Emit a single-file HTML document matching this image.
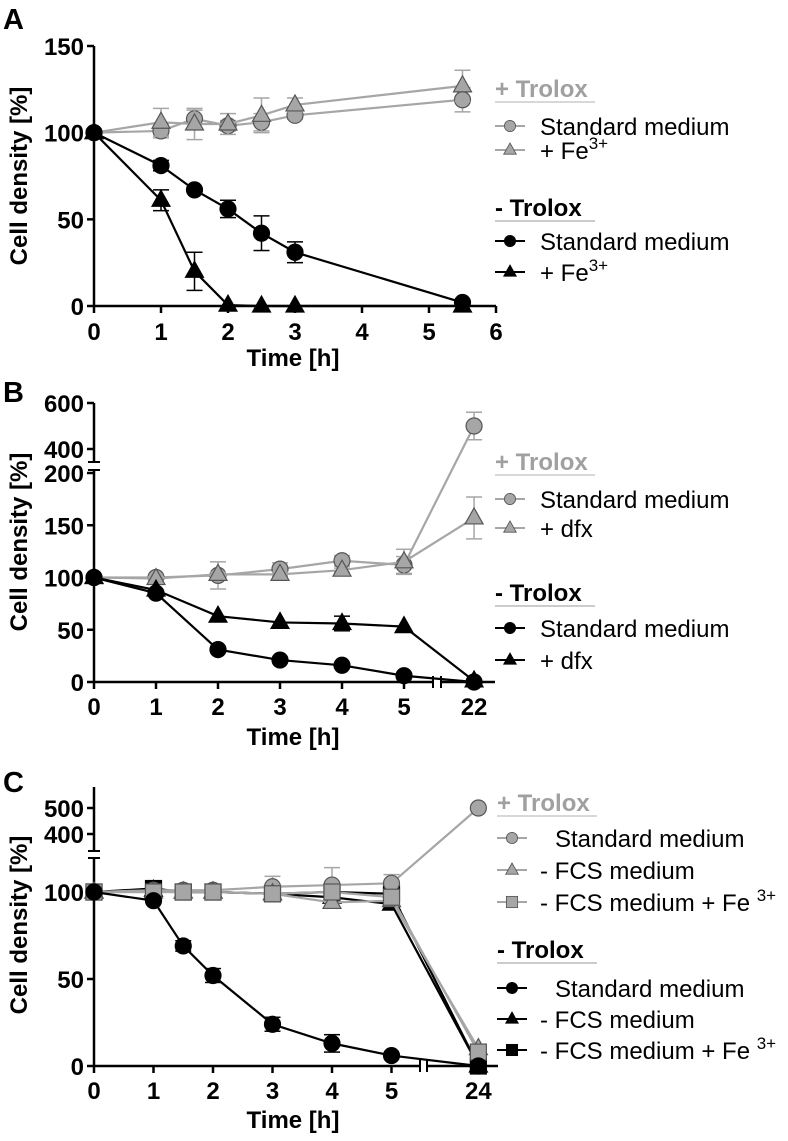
<!DOCTYPE html>
<html><head><meta charset="utf-8"><style>
body{margin:0;background:#fff;}
svg{display:block;font-family:"Liberation Sans",Arial,sans-serif;}
.tk{font-weight:bold;font-size:24px;}
.ttl{font-weight:bold;font-size:24px;}
.lg{font-size:24px;}
.pl{font-weight:bold;font-size:29px;}
</style></head><body>
<svg id="fig" width="788" height="1141" viewBox="0 0 788 1141"></svg>
<script>
// Panel A data
const aTimes=[0,1,1.5,2,2.5,3,5.5];
const aStdPlus=[100,101,108,104,106,110,119];
const aStdPlusErr=[0,4,5,3,5,2,7];
const aFePlus=[100,106,105,105,110,116,127];
const aFePlusErr=[0,8,9,6,10,4,9];
const aStdMinus=[100,81,67,56,42,31,2];
const aStdMinusErr=[0,3,1,5,10,6,0];
const aFeMinus=[100,61,20,0.5,0,0,0];
const aFeMinusErr=[0,6,11,0,0,0,0];
const aXTicks=[0,1,2,3,4,5,6];
const aYTicks=[0,50,100,150];
// Panel B data
const bTimes=[0,1,2,3,4,5,22];
const bStdPlus=[100,100,102,108,116,112,500];
const bStdPlusErr=[0,2,13,6,5,8,60];
const bDfxPlus=[100,99,103,103,107,115,157];
const bDfxPlusErr=[0,2,2,2,2,12,20];
const bStdMinus=[100,85,31,21,16,6,0];
const bDfxMinus=[100,88,63,57,56,53,1];
const bDfxMinusErr=[0,0,0,0,7,0,0];
const bXLabels=["0","1","2","3","4","5","22"];
const bYTicksLow=[0,50,100,150,200];
const bYTicksHigh=[400,600];
// Panel C data
const cTimes=[0,1,1.5,2,3,4,5,24];
const cStdPlus=[100,101,101,101,103,104,105,500];
const cStdPlusErr=[0,0,1,3,6,10,5,0];
const cFcsPlus=[100,100,100,100,99,94,95,10];
const cFcsFePlus=[100,100,100,100,99,100,97,8];
const cStdMinus=[100,95,69,52,24,13,6,0];
const cStdMinusErr=[0,1,3,4,4,5,0,0];
const cFcsMinus=[100,101,100,100,99,97,93,0];
const cFcsFeMinus=[100,102,100,100,99,100,99,0];
const cXLabels=["0","1","2","3","4","5","24"];
const cXTickVals=[0,1,2,3,4,5,24];
const cYTicksLow=[0,50,100];
const cYTicksHigh=[400,500];

const NS="http://www.w3.org/2000/svg";
const svg=document.getElementById('fig');
function el(t,a,p){const e=document.createElementNS(NS,t);for(const k in a)e.setAttribute(k,a[k]);(p||svg).appendChild(e);return e;}
function txt(s,x,y,cls,extra,p){const e=el('text',Object.assign({x:x,y:y,class:cls},extra||{}),p);e.textContent=s;return e;}
const GREY='#a6a6a6',GLINE='#a6a6a6';

function marker(g,shape,x,y,fill,stroke){
  let m;
  if(shape==='c')m=el('circle',{cx:x,cy:y,r:8,fill:fill,stroke:stroke,'stroke-width':1.2},g);
  else if(shape==='t')m=el('polygon',{points:`${x},${y-10} ${x+9},${y+6} ${x-9},${y+6}`,fill:fill,stroke:stroke,'stroke-width':1.2},g);
  else m=el('rect',{x:x-8,y:y-8,width:16,height:16,fill:fill,stroke:stroke,'stroke-width':1.2},g);
  
  
}
function series(name,xs,ys,errs,X,Y,shape,color,fill){
  const g=el('g',{});
  
  
  const pts=xs.map((t,i)=>X(t,i)+','+Y(ys[i])).join(' ');
  el('polyline',{points:pts,fill:'none',stroke:color,'stroke-width':2.2},g);
  if(errs)xs.forEach((t,i)=>{if(!errs[i])return;const x=X(t,i),y1=Y(ys[i]+errs[i]),y2=Y(Math.max(0,ys[i]-errs[i]));
    el('line',{x1:x,x2:x,y1:y1,y2:y2,stroke:color,'stroke-width':1.5},g);
    el('line',{x1:x-8,x2:x+8,y1:y1,y2:y1,stroke:color,'stroke-width':1.5},g);
    el('line',{x1:x-8,x2:x+8,y1:y2,y2:y2,stroke:color,'stroke-width':1.5},g);});
  xs.forEach((t,i)=>marker(g,shape,X(t,i),Y(ys[i]),fill,color==='#000'?'#000':'#555'));
}
function legend(x,title,yT,entries,grey){
  const g=el('g',{});
  
  
  txt(title,x,yT+8,'lg',{'font-weight':'bold',fill:grey?'#a0a0a0':'#000'},g);
  el('line',{x1:x,x2:x+100,y1:yT+13,y2:yT+13,stroke:grey?'#ccc':'#bbb','stroke-width':1.5},g);
  entries.forEach(e=>{
    const c=grey?GREY:'#000';
    el('line',{x1:x,x2:x+30,y1:e.y,y2:e.y,stroke:c,'stroke-width':2},g);
    const mg=el('g',{transform:`translate(${x+15},${e.y}) scale(0.7) translate(${-x-15},${-e.y})`},g);
    marker(mg,e.shape,x+15,e.y,grey?GREY:'#000',grey?'#555':'#000');
    const tt=txt(e.label,e.tx,e.y+9,'lg',{},g);
    if(e.sup){const s=el('tspan',{dy:-10,'font-size':17},tt);s.textContent=e.sup;}
  });
}
function axisTitles(cy,ty){
  const a=txt('Cell density [%]',0,0,'ttl',{transform:`translate(27,${cy}) rotate(-90)`,'text-anchor':'middle'});
  
  const b=txt('Time [h]',293,ty,'ttl',{'text-anchor':'middle'});
  
}

// ===== Panel A =====
txt('A',3,29,'pl');
const AX=t=>94+t*67, AY=v=>306-v*(260/150);
el('line',{x1:94,x2:94,y1:46,y2:306,stroke:'#000','stroke-width':2.5});
el('line',{x1:94,x2:496,y1:306,y2:306,stroke:'#000','stroke-width':2.5});
aYTicks.forEach(v=>{el('line',{x1:87,x2:94,y1:AY(v),y2:AY(v),stroke:'#000','stroke-width':2.5});txt(String(v),84,AY(v)+9,'tk',{'text-anchor':'end'});});
aXTicks.forEach(t=>{el('line',{x1:AX(t),x2:AX(t),y1:306,y2:313,stroke:'#000','stroke-width':2.5});txt(String(t),AX(t),340,'tk',{'text-anchor':'middle'});});
axisTitles(176,366);
series('series-a-std-plus',aTimes,aStdPlus,aStdPlusErr,AX,AY,'c',GLINE,GREY);
series('series-a-fe-plus',aTimes,aFePlus,aFePlusErr,AX,AY,'t',GLINE,GREY);
series('series-a-std-minus',aTimes,aStdMinus,aStdMinusErr,AX,AY,'c','#000','#000');
series('series-a-fe-minus',aTimes,aFeMinus,aFeMinusErr,AX,AY,'t','#000','#000');
legend(495,'+ Trolox',89,[{y:126,shape:'c',label:'Standard medium',tx:540},{y:150,shape:'t',label:'+ Fe',sup:'3+',tx:540}],true);
legend(495,'- Trolox',208,[{y:241,shape:'c',label:'Standard medium',tx:540},{y:272,shape:'t',label:'+ Fe',sup:'3+',tx:540}],false);

// ===== Panel B =====
txt('B',3,402,'pl');
const bXPos=[0,1,2,3,4,5,6.13];
const BX=(t,i)=>94+bXPos[i]*62;
const BY=v=>v<=200?682-v*1.045:449-(v-400)*0.23;
el('line',{x1:94,x2:94,y1:403,y2:462,stroke:'#000','stroke-width':2.5});
el('line',{x1:94,x2:94,y1:470,y2:682,stroke:'#000','stroke-width':2.5});
el('line',{x1:88,x2:100,y1:462,y2:462,stroke:'#000','stroke-width':2});
el('line',{x1:88,x2:100,y1:470,y2:470,stroke:'#000','stroke-width':2});
el('line',{x1:94,x2:433,y1:682,y2:682,stroke:'#000','stroke-width':2.5});
el('line',{x1:441,x2:495,y1:682,y2:682,stroke:'#000','stroke-width':2.5});
el('line',{x1:433,x2:433,y1:676,y2:688,stroke:'#000','stroke-width':2});
el('line',{x1:441,x2:441,y1:676,y2:688,stroke:'#000','stroke-width':2});
bYTicksLow.concat(bYTicksHigh).forEach(v=>{el('line',{x1:87,x2:94,y1:BY(v),y2:BY(v),stroke:'#000','stroke-width':2.5});txt(String(v),84,BY(v)+9,'tk',{'text-anchor':'end'});});
bXLabels.forEach((s,i)=>{const x=BX(0,i);el('line',{x1:x,x2:x,y1:682,y2:689,stroke:'#000','stroke-width':2.5});txt(s,x,715,'tk',{'text-anchor':'middle'});});
axisTitles(542,745);
series('series-b-std-plus',bTimes,bStdPlus,bStdPlusErr,BX,BY,'c',GLINE,GREY);
series('series-b-dfx-plus',bTimes,bDfxPlus,bDfxPlusErr,BX,BY,'t',GLINE,GREY);
series('series-b-std-minus',bTimes,bStdMinus,null,BX,BY,'c','#000','#000');
series('series-b-dfx-minus',bTimes,bDfxMinus,bDfxMinusErr,BX,BY,'t','#000','#000');
legend(495,'+ Trolox',462,[{y:499,shape:'c',label:'Standard medium',tx:540},{y:528,shape:'t',label:'+ dfx',tx:540}],true);
legend(495,'- Trolox',593,[{y:628,shape:'c',label:'Standard medium',tx:540},{y:660,shape:'t',label:'+ dfx',tx:540}],false);

// ===== Panel C =====
txt('C',3,792,'pl');
const cXPos=[0,1,1.5,2,3,4,5,6.46];
const CX=(t,i)=>94+cXPos[i]*59.5;
const CY=v=>v<=200?1066-v*1.74:808-(v-500)*0.26;
el('line',{x1:94,x2:94,y1:787,y2:851,stroke:'#000','stroke-width':2.5});
el('line',{x1:94,x2:94,y1:858,y2:1066,stroke:'#000','stroke-width':2.5});
el('line',{x1:88,x2:100,y1:851,y2:851,stroke:'#000','stroke-width':2});
el('line',{x1:88,x2:100,y1:858,y2:858,stroke:'#000','stroke-width':2});
el('line',{x1:94,x2:420,y1:1066,y2:1066,stroke:'#000','stroke-width':2.5});
el('line',{x1:427,x2:498,y1:1066,y2:1066,stroke:'#000','stroke-width':2.5});
el('line',{x1:420,x2:420,y1:1060,y2:1072,stroke:'#000','stroke-width':2});
el('line',{x1:427,x2:427,y1:1060,y2:1072,stroke:'#000','stroke-width':2});
cYTicksLow.concat(cYTicksHigh).forEach(v=>{el('line',{x1:87,x2:94,y1:CY(v),y2:CY(v),stroke:'#000','stroke-width':2.5});txt(String(v),84,CY(v)+9,'tk',{'text-anchor':'end'});});
cXLabels.forEach((s,i)=>{const idx=cTimes.indexOf(cXTickVals[i]);const x=CX(0,idx);el('line',{x1:x,x2:x,y1:1066,y2:1073,stroke:'#000','stroke-width':2.5});txt(s,x,1099,'tk',{'text-anchor':'middle'});});
axisTitles(925,1128);
series('series-c-fcs-minus',cTimes,cFcsMinus,null,CX,CY,'t','#000','#000');
series('series-c-fcsfe-minus',cTimes,cFcsFeMinus,null,CX,CY,'s','#000','#000');
series('series-c-std-plus',cTimes,cStdPlus,cStdPlusErr,CX,CY,'c',GLINE,GREY);
series('series-c-fcs-plus',cTimes,cFcsPlus,null,CX,CY,'t',GLINE,GREY);
series('series-c-fcsfe-plus',cTimes,cFcsFePlus,null,CX,CY,'s',GLINE,GREY);
series('series-c-std-minus',cTimes,cStdMinus,cStdMinusErr,CX,CY,'c','#000','#000');
legend(497,'+ Trolox',803,[{y:838,shape:'c',label:'Standard medium',tx:555},{y:870,shape:'t',label:'- FCS medium',tx:540},{y:902,shape:'s',label:'- FCS medium + Fe ',sup:'3+',tx:540}],true);
legend(497,'- Trolox',950,[{y:988,shape:'c',label:'Standard medium',tx:555},{y:1019,shape:'t',label:'- FCS medium',tx:540},{y:1050,shape:'s',label:'- FCS medium + Fe ',sup:'3+',tx:540}],false);
</script>
</body></html>
